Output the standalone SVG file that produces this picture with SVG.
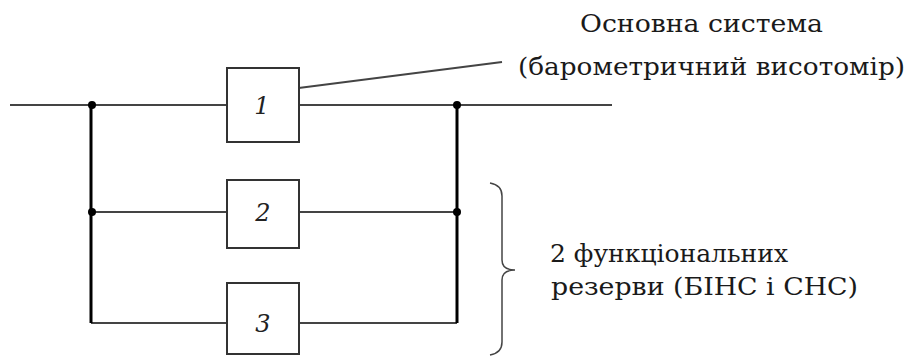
<svg xmlns="http://www.w3.org/2000/svg" width="908" height="356" viewBox="0 0 908 356">
<style>
.box{fill:#fff;stroke:#333;stroke-width:2}
.w{stroke:#444;stroke-width:2;fill:none}
.v{stroke:#000;stroke-width:3;fill:none}
.dot{fill:#000}
.num{font-family:"DejaVu Serif","Liberation Serif",serif;font-style:italic;font-size:24px;fill:#222;text-anchor:middle}
.lbl{font-family:"DejaVu Serif","Liberation Serif",serif;font-size:24px;fill:#1a1a1a}
</style>
<rect width="908" height="356" fill="#fff"/>
<g id="connectors">
<line class="w" x1="10" y1="105" x2="227" y2="105"/>
<line class="w" x1="299" y1="105" x2="612" y2="105"/>
<line class="w" x1="91" y1="212" x2="227" y2="212"/>
<line class="w" x1="299" y1="212" x2="457" y2="212"/>
<line class="w" x1="91" y1="323" x2="227" y2="323"/>
<line class="w" x1="299" y1="323" x2="457" y2="323"/>
<line class="v" x1="91" y1="105" x2="91" y2="323"/>
<line class="v" x1="457" y1="105" x2="457" y2="323"/>
<circle class="dot" cx="92" cy="105" r="4"/>
<circle class="dot" cx="92" cy="212" r="4"/>
<circle class="dot" cx="457" cy="105" r="4"/>
<circle class="dot" cx="457" cy="212" r="4"/>
<line class="w" x1="283" y1="90" x2="502" y2="62" stroke-width="1.5"/>
<circle class="dot" cx="283" cy="90" r="4"/>
</g>
<g id="node1"><rect class="box" x="227" y="68" width="72" height="74"/><text class="num" x="262" y="114">1</text></g>
<g id="node2"><rect class="box" x="227" y="180" width="72" height="68"/><text class="num" x="263" y="221">2</text></g>
<g id="node3"><rect class="box" x="227" y="283" width="72" height="71"/><text class="num" x="263" y="332">3</text></g>
<g id="label-main">
<text class="lbl" x="580" y="32" textLength="243" lengthAdjust="spacingAndGlyphs">Основна система</text>
<text class="lbl" x="518" y="75" textLength="387" lengthAdjust="spacingAndGlyphs">(барометричний висотомір)</text>
</g>
<g id="brace">
<path d="M490,183 Q502,185 502,196 L502,260 Q502,270 515,270 Q502,270 502,280 L502,342 Q502,353 490,355" fill="none" stroke="#444" stroke-width="1.5"/>
</g>
<g id="label-reserve">
<text class="lbl" x="550" y="262" textLength="238" lengthAdjust="spacingAndGlyphs">2 функціональних</text>
<text class="lbl" x="551" y="295" textLength="307" lengthAdjust="spacingAndGlyphs">резерви (БІНС і СНС)</text>
</g>
</svg>
